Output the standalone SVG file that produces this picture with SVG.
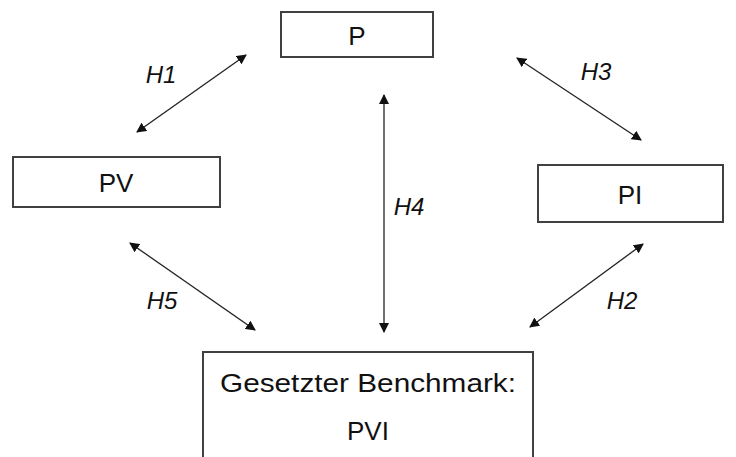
<svg xmlns="http://www.w3.org/2000/svg" width="736" height="457" viewBox="0 0 736 457">
<defs>
<marker id="ah" viewBox="0 0 10 10" refX="9" refY="5" markerWidth="10" markerHeight="10" markerUnits="userSpaceOnUse" orient="auto-start-reverse">
<path d="M0,0 L10,5 L0,10 z" fill="#111"/>
</marker>
<style>
.box{fill:#fff;stroke:#404040;stroke-width:2}
.t{font-family:"Liberation Sans",Arial,sans-serif;font-size:26px;fill:#111;text-anchor:middle}
.lbl{font-family:"Liberation Sans",Arial,sans-serif;font-size:24px;font-style:italic;fill:#111;text-anchor:middle}
.c{stroke:#222;stroke-width:1.3;fill:none;marker-start:url(#ah);marker-end:url(#ah)}
</style>
</defs>
<rect width="736" height="457" fill="#fff"/>
<g id="node-P"><rect class="box" x="281" y="12" width="152" height="45"/><text class="t" x="357" y="45">P</text></g>
<g id="node-PV"><rect class="box" x="13" y="157" width="207" height="50"/><text class="t" x="116" y="192">PV</text></g>
<g id="node-PI"><rect class="box" x="538" y="165" width="185" height="57"/><text class="t" x="630" y="204">PI</text></g>
<g id="node-PVI"><path class="box" d="M203,460 L203,352 L533,352 L533,460"/><text class="t" x="368" y="392" textLength="296" lengthAdjust="spacingAndGlyphs">Gesetzter Benchmark:</text><text class="t" x="368" y="440">PVI</text></g>
<g id="connectors">
<line class="c" x1="137" y1="132" x2="246" y2="55"/>
<line class="c" x1="517" y1="58" x2="641" y2="140"/>
<line class="c" x1="130" y1="243" x2="255" y2="330"/>
<line class="c" x1="643" y1="244" x2="530" y2="327"/>
<line class="c" x1="384" y1="95" x2="384" y2="332"/>
</g>
<g id="labels">
<text class="lbl" x="161" y="83">H1</text>
<text class="lbl" x="596" y="80">H3</text>
<text class="lbl" x="409" y="215">H4</text>
<text class="lbl" x="162" y="309">H5</text>
<text class="lbl" x="622" y="309">H2</text>
</g>
</svg>
